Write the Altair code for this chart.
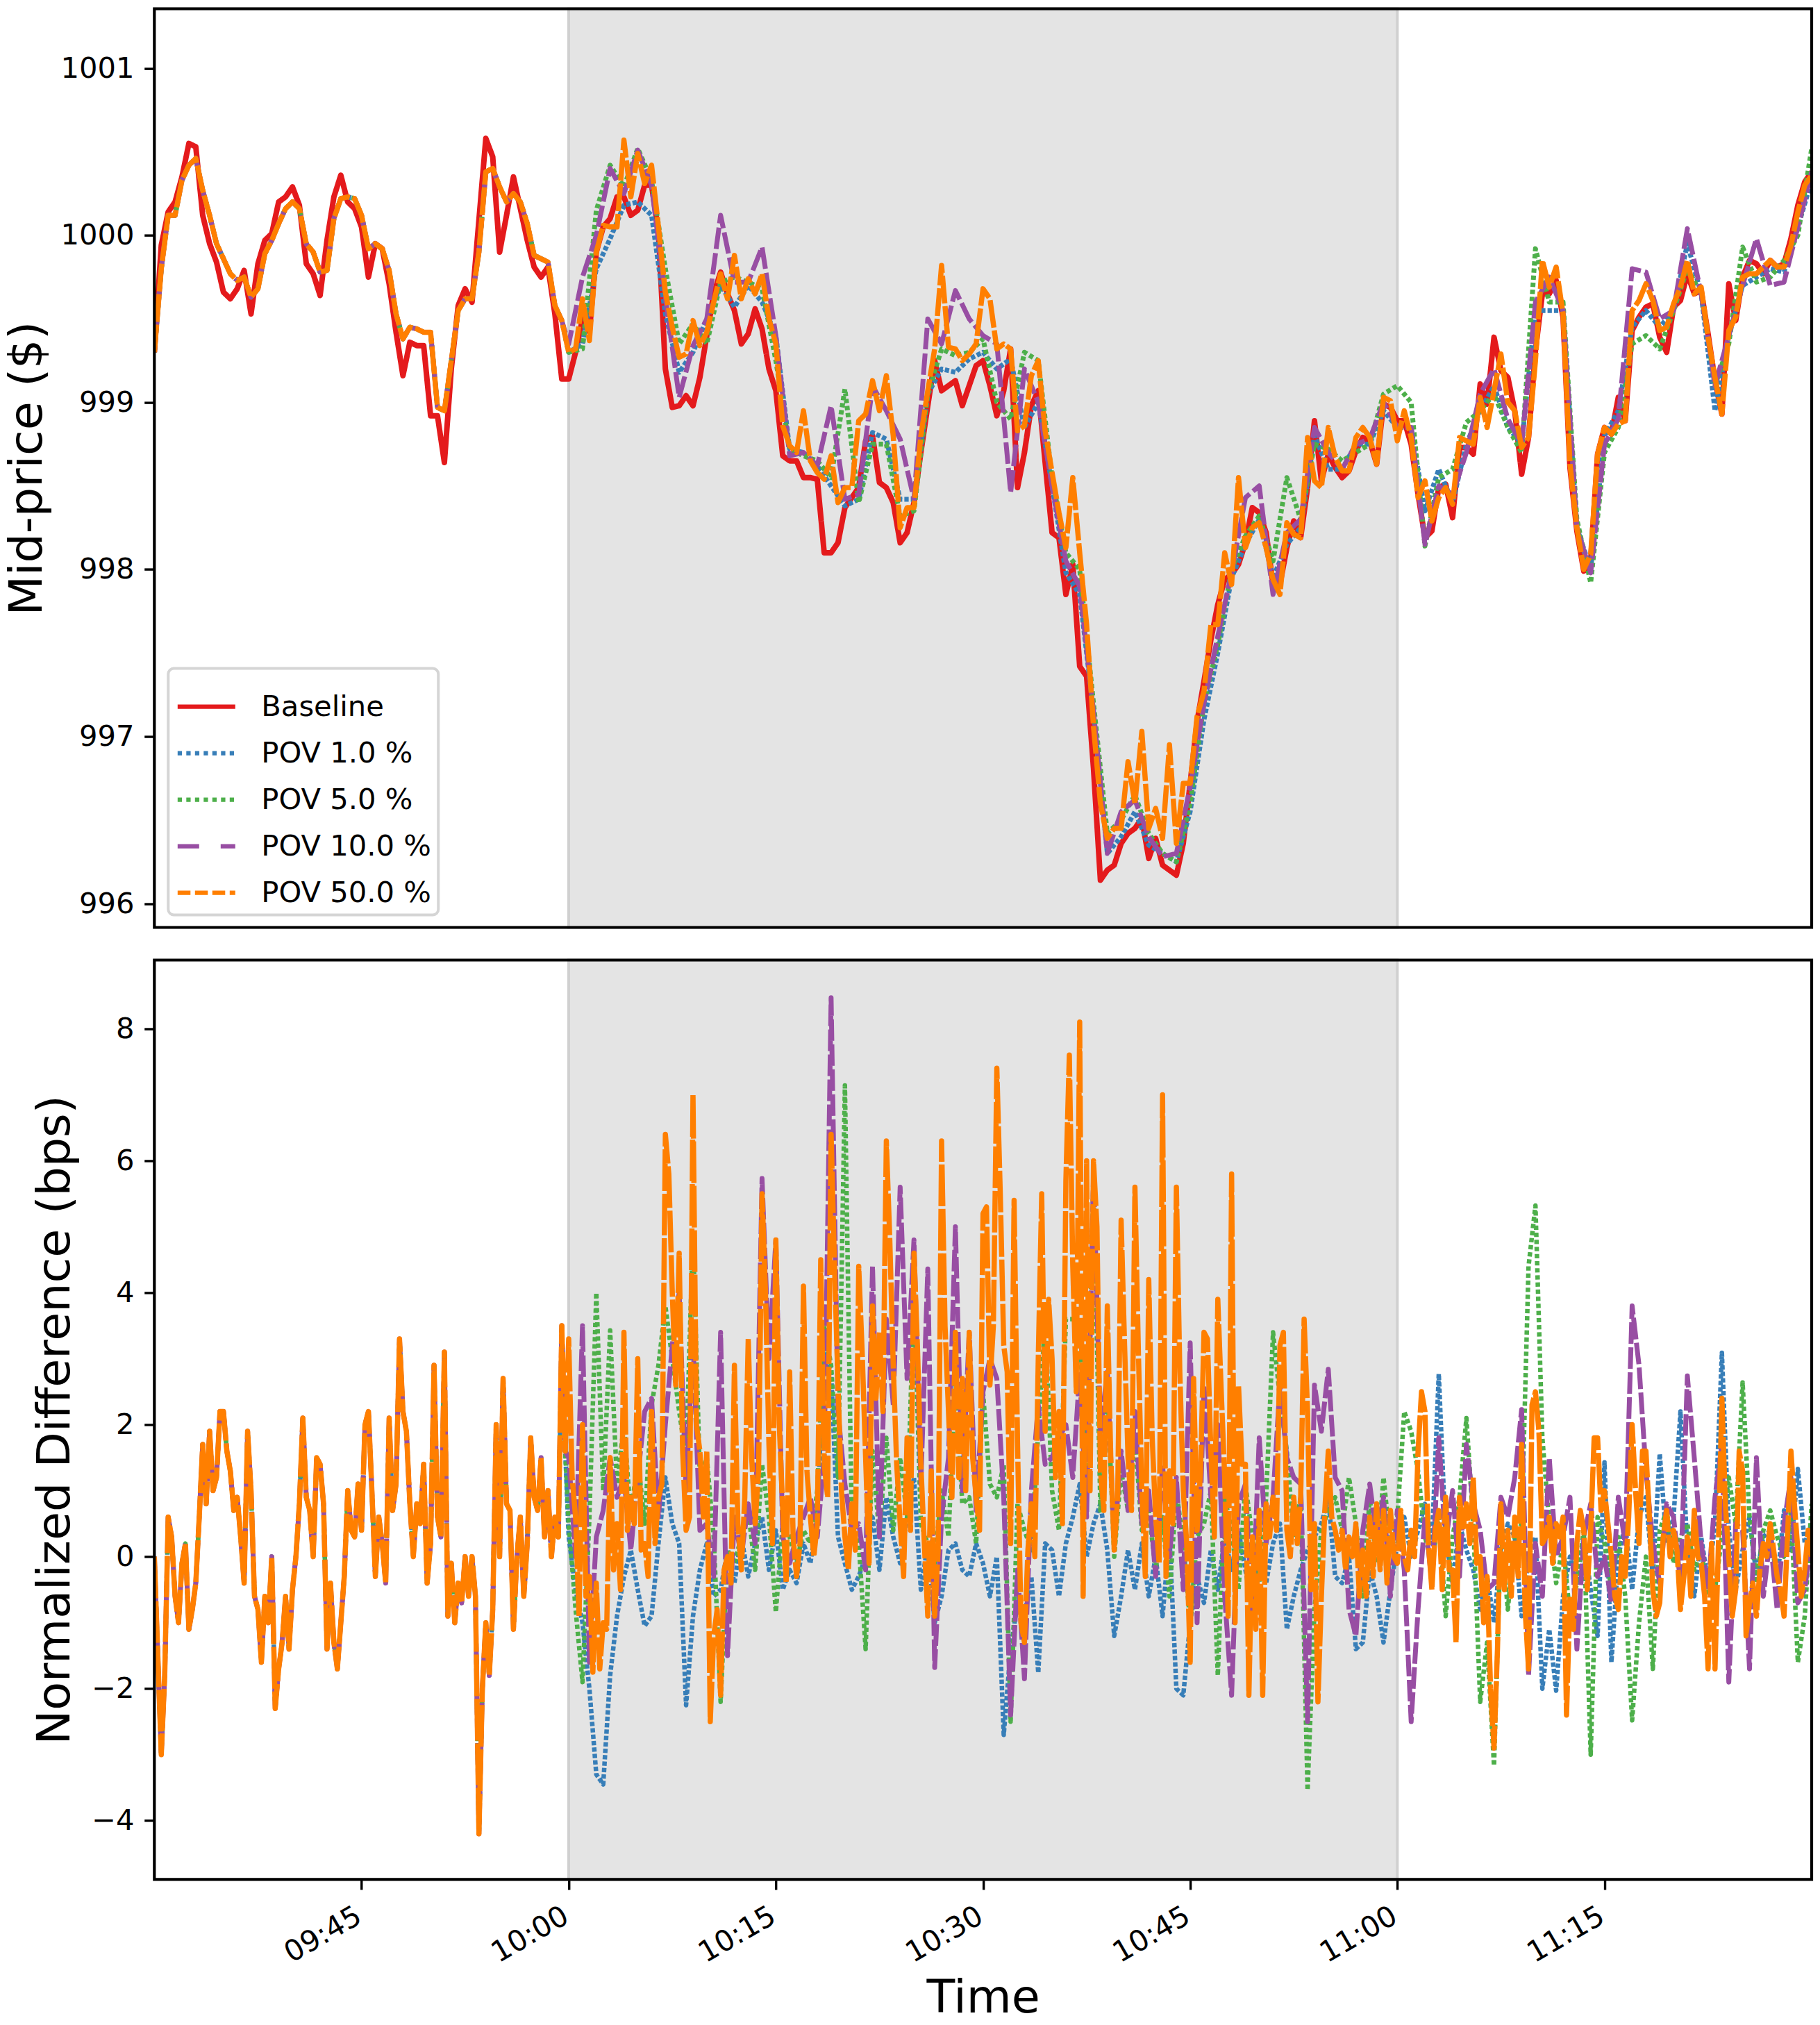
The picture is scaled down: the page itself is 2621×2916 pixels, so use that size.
import altair as alt
import pandas as pd

SERIES = ["Baseline", "POV 1.0 %", "POV 5.0 %", "POV 10.0 %", "POV 50.0 %"]
COLORS = ["#e41a1c", "#377eb8", "#4daf4a", "#984ea3", "#ff7f00"]
LEGEND_DASHES = [[1, 0], [6.25, 6.25], [6.25, 6.25], [31, 31], [18.5, 6.5]]
# Dense ticks overlap in the source, so the drawn lines read heavier than their legend keys
TOP_WIDTHS = [8, 7, 7, 7, 7.5]
TOP_DASHES = [[1, 0], [6.25, 3], [6.25, 4], [31, 6], [40, 4]]
BOTTOM_WIDTHS = [6, 6.5, 6.5, 7, 7.5]
BOTTOM_DASHES = [[1, 0], [6.25, 3], [6.25, 4], [31, 5], [60, 4]]

# ---- Mid-price panel, every 30 s before 10:00, shared by all POV runs ----
mid_pre = [999.3, 999.8, 1000.12, 1000.12, 1000.33, 1000.42, 1000.46, 1000.27, 1000.12, 999.95,
           999.86, 999.77, 999.73, 999.75, 999.63, 999.68, 999.89, 999.97, 1000.07, 1000.16,
           1000.2, 1000.16, 999.95, 999.9, 999.78, 999.79, 1000.1, 1000.22, 1000.23, 1000.22,
           1000.12, 999.92, 999.95, 999.92, 999.79, 999.53, 999.38, 999.45, 999.44, 999.42,
           999.42, 998.97, 998.95, 999.25, 999.55, 999.62, 999.62, 999.9, 1000.38, 1000.4,
           1000.29, 1000.2, 1000.25, 1000.2, 1000.07, 999.88, 999.86, 999.84, 999.58, 999.49]
base_pre = [999.3, 999.94, 1000.14, 1000.2, 1000.35, 1000.55, 1000.53, 1000.12, 999.95, 999.84,
            999.66, 999.62, 999.68, 999.79, 999.53, 999.83, 999.97, 1000.01, 1000.2, 1000.23,
            1000.29, 1000.18, 999.83, 999.77, 999.64, 999.97, 1000.23, 1000.36, 1000.2, 1000.16,
            1000.05, 999.75, 999.95, 999.92, 999.71, 999.42, 999.16, 999.36, 999.34, 999.34,
            998.92, 998.92, 998.64, 999.2, 999.58, 999.68, 999.6, 1000.09, 1000.58, 1000.47,
            999.9, 1000.12, 1000.35, 1000.16, 999.97, 999.81, 999.75, 999.81, 999.53, 999.14]
# 10:00 onward, every 30 s
base_post = [999.14, 999.3, 999.5, 999.42, 999.9, 1000.05, 1000.1, 1000.23, 1000.23, 1000.12,
             1000.15, 1000.3, 1000.3, 1000.02, 999.2, 998.97, 998.98, 999.04, 998.98, 999.15,
             999.4, 999.65, 999.78, 999.65, 999.55, 999.35,
             999.41, 999.56, 999.44, 999.2, 999.07, 998.68, 998.65, 998.65, 998.55, 998.55,
             998.54, 998.1, 998.1, 998.16, 998.37, 998.43, 998.49, 998.77, 998.8, 998.52,
             998.49, 998.4, 998.16, 998.22, 998.4, 998.7, 998.98, 999.25, 999.07, 999.1,
             999.13, 998.98, 999.1, 999.22, 999.25, 999.1, 998.92, 999.07, 999.32, 998.49,
             998.7, 998.98, 999.07, 998.64, 998.22, 998.19, 997.85, 998.03, 997.42, 997.36,
             996.81, 996.14, 996.2, 996.23, 996.36, 996.42, 996.45, 996.51, 996.27, 996.39,
             996.23, 996.2, 996.17, 996.36, 996.72, 997.09, 997.33, 997.58, 997.79, 997.94,
             997.97, 998.03, 998.16, 998.37, 998.34, 998.22, 997.91, 997.91, 998.13,
             998.29, 998.19, 998.49, 998.89, 998.53, 998.69, 998.61, 998.55, 998.59, 998.71,
             998.79, 998.77, 998.63, 998.99, 998.97, 998.89, 998.89, 998.75, 998.45, 998.19,
             998.23, 998.49, 998.51, 998.31, 998.73, 998.73, 998.69, 999.11, 998.99, 999.39,
             999.19, 999.15, 998.95, 998.57, 998.79, 999.31, 999.65, 999.65, 999.73, 999.51,
             998.61, 998.23, 997.99, 998.05, 998.69, 998.85, 998.81, 999.03, 998.89, 999.43,
             999.51, 999.57, 999.59, 999.39, 999.3, 999.57, 999.61, 999.77, 999.65, 999.67,
             999.41, 999.13, 998.93, 999.71, 999.49, 999.75, 999.85, 999.83, 999.77, 999.85,
             999.81, 999.83, 999.98, 1000.18, 1000.32, 1000.38]
mid50_post = [999.3, 999.32, 999.62, 999.37, 999.9, 1000.06, 1000.05, 1000.05, 1000.57, 1000.23,
              1000.49, 1000.31, 1000.42, 1000.05, 999.66, 999.45, 999.27, 999.29, 999.49, 999.34,
              999.42, 999.6, 999.77, 999.62, 999.88, 999.62,
              999.74, 999.65, 999.77, 999.5, 999.35, 998.86, 998.74, 998.7, 998.95, 998.65,
              998.58, 998.54, 998.68, 998.4, 998.49, 998.49, 998.89, 998.93, 999.13, 998.95,
              999.16, 998.8, 998.25, 998.37, 998.37, 998.8, 999.07, 999.32, 999.82, 999.33,
              999.32, 999.25, 999.29, 999.35, 999.68, 999.62, 999.32, 999.35, 999.32, 998.83,
              998.86, 999.16, 999.25, 998.83, 998.58, 998.34, 998.13, 998.55, 998.1, 997.67,
              997.06, 996.6, 996.39, 996.45, 996.45, 996.85, 996.6, 997.03, 996.45, 996.57,
              996.39, 996.95, 996.36, 996.72, 996.72, 997.12, 997.27, 997.67, 997.67, 998.1,
              997.91, 998.55, 998.13, 998.25, 998.28, 998.13, 997.94, 997.85, 998.28,
              998.21, 998.19, 998.79, 998.53, 998.49, 998.85, 998.67, 998.59, 998.59, 998.79,
              998.85, 998.79, 998.63, 999.03, 999.01, 998.77, 998.95, 998.79, 998.43, 998.53,
              998.29, 998.43, 998.49, 998.39, 998.79, 998.77, 998.75, 999.03, 998.85, 999.07,
              999.29, 999.0, 998.95, 998.73, 998.79, 999.25, 999.85, 999.69, 999.81, 999.53,
              998.63, 998.25, 998.0, 998.09, 998.69, 998.85, 998.81, 998.87, 998.89, 999.55,
              999.61, 999.71, 999.61, 999.43, 999.45, 999.59, 999.69, 999.85, 999.65, 999.69,
              999.39, 999.15, 998.93, 999.43, 999.51, 999.75, 999.77, 999.77, 999.81, 999.85,
              999.81, 999.81, 999.94, 1000.14, 1000.3, 1000.36]
# 10:00 onward, every minute
mid1_post = [999.3, 999.35, 999.8, 999.98, 1000.18, 1000.2, 1000.12, 999.53, 999.18, 999.3,
             999.5, 999.7, 999.57, 999.7, 999.6, 999.4, 998.72, 998.7, 998.62, 998.5,
             998.38, 998.42, 998.82, 998.78, 998.42, 998.42, 999.05, 999.2, 999.18, 999.26,
             999.3, 999.2, 999.26, 998.85, 999.0, 998.5, 997.98, 997.85, 997.15, 996.3,
             996.4, 996.55, 996.35, 996.3, 996.25, 996.55, 997.1, 997.5, 997.95, 998.15,
             998.3, 997.95, 998.15, 998.25, 998.8, 998.6, 998.6, 998.75, 998.75, 998.95,
             998.85, 998.85, 998.35, 998.6, 998.4, 998.75, 998.95, 999.1, 998.85, 998.75,
             999.55, 999.55, 999.55, 998.25, 998.0, 998.8, 998.95, 999.45, 999.55, 999.45,
             999.55, 999.95, 999.65, 998.95, 999.4, 999.7, 999.75, 999.8, 999.78, 1000.05, 1000.33]
mid5_post = [999.3, 999.32, 1000.15, 1000.42, 1000.29, 1000.52, 1000.33, 999.8, 999.35, 999.47,
             999.35, 999.72, 999.75, 999.72, 999.68, 999.25, 998.72, 998.68, 998.65, 998.55,
             999.08, 998.4, 998.75, 998.75, 998.32, 998.35, 999.05, 999.32, 999.28, 999.3,
             999.38, 999.0, 998.9, 999.3, 999.25, 998.55, 998.1, 998.0, 997.2, 996.42,
             996.5, 996.65, 996.42, 996.3, 996.25, 996.6, 997.2, 997.55, 998.0, 998.2,
             998.32, 998.05, 998.55, 998.3, 998.75, 998.72, 998.65, 998.7, 998.75, 999.05,
             999.1, 999.0, 998.14, 998.55, 998.6, 998.88, 998.95, 999.05, 998.85, 998.7,
             999.92, 999.6, 999.6, 998.3, 997.92, 998.7, 998.85, 999.35, 999.4, 999.32,
             999.55, 999.8, 999.65, 999.1, 999.35, 999.93, 999.72, 999.75, 999.85, 1000.0, 1000.52]
mid10_post = [999.35, 999.75, 1000.0, 1000.4, 1000.25, 1000.51, 1000.3, 999.63, 999.03, 999.34,
              999.5, 1000.12, 999.72, 999.72, 999.93, 999.4, 998.68, 998.7, 998.62, 998.98,
              998.42, 998.45, 999.1, 998.95, 998.78, 998.42, 999.5, 999.35, 999.67, 999.5,
              999.4, 999.35, 998.46, 999.2, 999.0, 998.5, 998.05, 997.9, 997.15, 996.3,
              996.55, 996.62, 996.4, 996.28, 996.3, 996.7, 997.2, 997.6, 997.98, 998.43,
              998.5, 997.85, 998.22, 998.3, 998.85, 998.7, 998.6, 998.75, 998.78, 999.0,
              998.85, 998.85, 998.15, 998.5, 998.45, 998.7, 999.05, 999.2, 998.9, 998.75,
              999.6, 999.75, 999.55, 998.25, 997.98, 998.75, 998.9, 999.8, 999.78, 999.5,
              999.55, 1000.04, 999.65, 999.1, 999.4, 999.7, 999.98, 999.7, 999.72, 1000.05, 1000.38]

# ---- Normalized difference panel ----
# before 10:00, every 15 s, shared by all POV runs
diff_pre = [0.0, -1.5, -3.0, -1.8, 0.6, 0.3, -0.6, -1.0, -0.1, 0.2,
            -1.1, -0.8, -0.4, 0.6, 1.7, 0.8, 1.9, 1.0, 1.2, 2.2,
            2.2, 1.6, 1.3, 0.7, 0.9, 0.3, -0.4, 1.9, 1.0, -0.6,
            -0.8, -1.6, -0.6, -1.0, 0.0, -2.3, -1.7, -1.3, -0.6, -1.4,
            -0.5, 0.0, 0.8, 2.1, 0.9, 0.7, 0.0, 1.5, 1.4, 0.8,
            -1.4, -0.4, -1.3, -1.7, -1.0, -0.3, 1.0, 0.4, 0.3, 1.1,
            0.4, 2.0, 2.2, 1.0, -0.3, 0.6, 0.2, -0.4, 2.1, 0.7,
            1.1, 3.3, 2.2, 1.9, 0.8, 0.0, 0.8, 0.5, 1.4, -0.4,
            0.2, 2.9, 0.6, 0.3, 3.1, -0.9, -0.1, -1.0, -0.4, -0.7,
            0.0, -0.6, 0.0, -0.6, -4.2, -2.0, -1.0, -1.8, -0.8, 2.0,
            0.0, 2.7, 0.8, 0.7, -1.1, 0.0, 0.6, -0.6, 0.2, 1.8,
            0.9, 0.7, 1.5, 0.3, 1.0, 0.0, 0.6, 0.3, 3.5, 1.6]
# 10:00 onward, every 15 s
diff50_post = [3.3, 1.2, 0.6, -0.9, 2.0, -0.6, -0.3, -1.75, -0.4, -1.7, -1.0, -1.1, 1.5, -0.2, 0.5, -0.5,
               3.4, 0.4, 0.9, 0.5, 3.0, 0.1, 0.2, -0.3, 2.2, 0.2, 0.9, 1.1, 6.4, 5.8, 4.0, 2.6,
               4.6, 1.6, 0.4, 0.6, 7.0, 2.0, 1.6, 0.6, 1.6, -2.5, -1.2, -0.8, -2.1, -0.2, 0.0, -0.4,
               2.9, 0.5, -0.2, 0.9, 3.3, 1.5, 0.5, 1.3, 5.5, 4.0, 1.7, 0.2, 4.8, 2.0, 0.7, -0.4,
               2.8, 0.3, -0.3, 0.2, 4.1, 1.3, 0.6, 0.0, 0.5, 4.5, 1.4, 0.9, 6.4, 4.4, 2.6, 1.0,
               0.3, -0.2, 0.8, 0.1, 4.4, 3.1, 1.5, -0.1, 3.8, 2.4, 3.4, 2.2, 6.3, 4.8, 2.9, 1.4,
               0.5, -0.3, 1.8, 0.4, 4.6, 3.2, 1.4, 0.2, -0.9, 1.3, -0.9, 0.1, 6.3, 3.5, 2.2, 0.9,
               3.4, 1.2, 2.7, 1.0, 3.4, 1.5, 0.9, 0.4, 5.2, 5.3, 2.6, 3.5, 7.4, 5.5, 3.2, 2.8,
               0.2, 5.4, 1.7, -1.0, -1.3, 0.1, 0.8, 0.0, 3.0, 5.5, 1.9, 3.9, 3.0, 1.2, 2.2, 0.5,
               5.7, 7.6, 4.4, 2.5, 8.1, -0.6, 6.0, 1.0, 6.0, 5.0, 1.3, 0.7, 3.8, 1.5, 0.1, 0.9,
               5.1, 3.2, 1.5, 0.7, 5.6, 3.1, 1.0, -0.3, 4.2, 1.8, 0.6, -0.1, 7.0, -0.3, 1.3, 0.5,
               5.6, 2.8, 1.0, 0.2, -1.6, 2.7, 0.4, 1.3, 3.4, 3.3, 1.6, 0.3, 3.9, 2.5, 1.2, -0.9,
               5.8, -1.0, 2.6, 1.4, 1.4, -2.1, 0.3, -1.1, 0.7, -2.1, 0.8, 0.3, 0.9, 0.4, 3.2, 3.4,
               0.4, 0.0, 0.9, 0.2, 0.9, 3.6, 2.2, -0.5, 0.5, -2.2, -0.6, 0.7, 1.6, 0.6, 0.4, 0.1,
               0.4, -0.2, 0.3, 0.0, 0.5, -0.6, 0.1, -0.6, 0.6, -0.3, 0.8, -0.2, 0.7, -0.4, 0.7, 0.0,
               -0.1, 0.7, 0.0, -0.2, 0.4, 0.0, 1.6, 2.5, 2.2, 0.2, -0.5, 0.4, 0.7, -0.5, 0.9, -0.2,
               -0.2, -1.3, 0.9, 0.4, 0.8, 0.2, 1.2, -0.1, 0.0, -1.0, -0.3, -2.0, -2.9, -1.4, 0.8, -0.5,
               0.4, -0.6, 0.6, -0.3, 1.7, -0.8, -1.7, 2.3, 2.5, 1.9, 0.2, 0.3, 0.6, -0.1, 0.5, 0.3,
               0.6, -2.4, -0.6, -1.1, 0.2, 0.7, 0.4, -0.5, 0.4, 1.8, 1.8, 0.7, 1.0, 0.5, 0.0, -0.6,
               -0.8, 0.0, -0.3, 0.6, 2.0, 1.0, 0.2, 1.6, 1.6, 0.6, -0.5, -0.9, -0.7, 0.3, 0.7, 0.0,
               0.4, 0.1, -0.8, -0.3, 0.3, -0.6, 0.7, 0.0, -0.1, -0.6, -1.7, 0.2, -1.7, 0.2, 2.4, 0.8,
               0.0, -0.9, -0.5, 1.6, 1.3, -1.2, -0.7, -0.4, -0.9, -0.2, 0.2, 0.0, 0.5, 0.1, -0.3, -0.5,
               -0.9, 0.3, 1.6, 0.8, 0.1, -0.6, -0.2, 0.4, 0.0]
# 10:00 onward, every 30 s
diff1_post = [0.3, -0.5, -1.0, -2.0, -3.3, -3.45, -1.8, -0.9, -0.3, 0.1, -0.5, -1.05, -0.9, 0.2, 1.2, 0.5, 0.2, -2.25, -0.9, -0.2,
              0.2, -0.6, -0.5, 0.1, -0.4, 0.3, -0.3, 0.2, 0.6, -0.2, 0.4, -0.5, -0.2, -0.4, 0.2, -0.1, 0.6, 3.2, 2.8, 0.3,
              -0.1, -0.5, -0.3, 0.0, 0.6, -0.2, 0.9, 0.3, -0.1, 0.6, 1.2, -0.5, 0.2, -1.0, -0.6, 0.1, 0.2, -0.2, -0.3, 0.2,
              -0.1, -0.6, 0.0, -2.7, -1.4, -0.7, -0.9, -0.3, -1.76, 0.2, 0.1, -0.6, 0.2, 0.6, 1.1, 0.0, 0.5, 0.8, 0.1, -1.2,
              -0.6, 0.1, -0.5, 0.2, -0.6, 0.0, -0.9, 0.3, -2.0, -2.1, -1.0, -0.3, -0.7, 0.1, -0.5, 0.3, -0.2, 0.4, -0.2, -0.8,
              0.1, -0.4, 0.2, 0.5, -1.1, -0.6, -0.2, 0.1, 0.3, 0.5, 0.9, -0.3, -0.4, 0.0, -1.4, -1.3, -0.2, -0.6, -1.3, -0.5,
              0.2, 0.6, 0.0, 0.4, 0.8, 0.2, 2.77, 0.3, -0.4, 0.5, 0.1, -0.2, -0.8, -0.3, -1.0, 0.1, 0.5, 0.3, -0.9, 0.0,
              0.3, -2.0, -1.1, -2.03, -0.6, 0.0, -0.4, 0.3, -0.5, -1.2, 1.43, -1.6, 0.0, 0.5, -0.5, 0.6, 0.9, -0.3, 1.56, 0.2,
              0.6, 2.2, 0.1, -0.6, 0.3, -0.4, 0.5, 3.09, 0.4, -0.5, 0.1, 0.6, -0.3, 0.3, 0.4, -0.4, 0.7, 0.1, 1.33, 0.2, 0.5]
diff5_post = [0.5, -0.8, -1.9, 0.6, 4.0, 1.0, 3.43, 1.1, 2.0, 0.6, 1.5, 0.5, 2.3, 2.9, 3.8, 3.0, 2.2, 1.5, 4.9, 1.2,
              1.5, 0.3, -2.2, 0.1, -0.1, 0.3, 0.7, -0.2, 1.4, 0.6, -0.84, 0.5, 0.3, -0.1, 0.4, 0.2, 1.0, 3.5, 2.9, 1.2,
              7.14, 0.5, 0.2, -1.4, 1.6, 0.3, 1.8, 0.4, 1.5, 0.6, 4.0, 0.5, 0.2, -0.1, 1.0, 0.3, 2.7, 0.8, 0.9, 0.2,
              2.5, 1.1, 0.9, 1.4, -2.5, 0.8, 0.4, 0.1, 1.9, 3.6, 1.0, 0.4, 3.6, 3.6, 3.3, 1.0, 5.8, 0.7, 2.6, 0.0,
              1.3, 0.7, 1.8, 0.4, 0.7, -0.2, 0.6, -0.6, 1.0, 0.2, -1.0, 0.3, 0.5, 1.0, -1.8, 0.9, 0.4, -0.5, 1.1, 0.3,
              -0.4, 0.9, 3.4, 2.4, 1.6, 0.3, 0.9, -3.54, -0.8, 0.4, 0.7, 0.9, 0.4, 1.2, 0.5, -0.6, 0.9, -0.1, 1.2, 0.2,
              0.6, 2.2, 1.9, 1.3, 0.3, -0.1, 0.6, -0.9, 0.3, 0.9, 2.1, 0.5, -2.2, -1.3, -3.17, 0.4, -0.8, 0.3, 0.5, 4.4,
              5.32, 1.8, 0.5, -0.4, 0.2, -0.9, -0.4, 0.4, -3.0, 0.6, 0.2, -0.5, 0.3, -0.6, -2.48, -1.0, 0.0, -1.7, 0.4, 0.7,
              -0.1, 0.3, 0.5, -0.2, 0.1, -0.6, -0.5, 0.3, 1.2, 0.5, 2.64, 0.6, -0.4, 0.4, 0.7, 0.3, 0.0, 0.7, -1.6, -0.9, 0.8]
diff10_post = [1.5, 0.0, 3.5, -1.6, 0.3, 0.7, 1.5, 0.9, 1.2, 0.1, 1.2, 2.2, 2.4, 0.6, 2.0, 3.2, 4.0, 1.0, 3.3, 0.4,
               0.5, -0.3, 3.4, -1.5, 0.6, 0.0, 0.8, 0.2, 5.73, 3.0, 4.8, 0.3, -0.1, 0.3, 0.6, 0.9, 0.3, 1.5, 8.47, 2.2,
               1.1, 0.4, 0.5, -0.2, 4.4, 0.3, 3.6, 2.3, 5.6, 2.7, 4.8, 1.1, 4.36, -1.68, 0.6, 1.5, 5.0, 1.0, 3.4, 0.7,
               2.5, 3.0, 2.7, 0.9, -2.4, -0.2, -1.85, 1.0, 2.3, 1.4, 1.5, 1.8, 2.0, 1.2, 2.8, 0.6, 5.8, 1.9, 2.8, 0.2,
               1.6, 0.7, 2.2, 0.5, 1.0, -0.3, 1.4, 0.0, 1.2, -0.5, 3.24, -1.0, 2.6, 0.9, 2.0, -0.6, -2.1, 0.8, 1.1, -0.9,
               1.8, 0.2, 0.9, 2.6, 1.5, 1.2, 1.1, -2.5, 2.6, 1.9, 2.84, 1.2, 1.0, -0.8, -1.2, 0.4, 1.1, 0.3, 0.9, -0.6,
               0.7, -0.2, -2.5, -0.8, 0.6, -0.4, 1.8, 0.2, 1.0, -0.3, 1.7, 0.8, 0.4, -0.5, -0.4, 0.9, 0.6, 1.2, 2.23, -1.8,
               0.2, -0.6, 1.5, 0.0, 0.3, 0.9, -1.4, 0.3, 0.8, -0.3, 0.0, -0.7, 0.9, 0.2, 3.8, 2.9, 1.3, 0.2, -0.4, 0.8,
               0.6, -0.4, 2.74, 1.5, 0.2, -0.5, 0.9, 1.7, -1.9, 0.5, 0.4, -1.7, 1.5, -0.6, 0.3, -0.8, 0.5, 1.2, -0.7, -0.5, 0.3]

# minutes after 09:30
BAND = [30, 90]
DOMAIN = [0, 120]
TIME_TICKS = [15, 30, 45, 60, 75, 90, 105]
MID_TICKS = [996, 997, 998, 999, 1000, 1001]
DIFF_TICKS = [-4, -2, 0, 2, 4, 6, 8]
FONT = "DejaVu Sans"


def frame(parts):
    rows = []
    for name, start, step, values in parts:
        for i, v in enumerate(values):
            rows.append({"t": start + i * step, "v": v, "s": name})
    return pd.DataFrame(rows)


mid_df = frame([
    (SERIES[0], 0, .5, base_pre), (SERIES[0], 30, .5, base_post),
    (SERIES[1], 0, .5, mid_pre), (SERIES[1], 30, 1, mid1_post),
    (SERIES[2], 0, .5, mid_pre), (SERIES[2], 30, 1, mid5_post),
    (SERIES[3], 0, .5, mid_pre), (SERIES[3], 30, 1, mid10_post),
    (SERIES[4], 0, .5, mid_pre), (SERIES[4], 30, .5, mid50_post),
])
diff_df = frame([
    (SERIES[1], 0, .25, diff_pre), (SERIES[1], 30, .5, diff1_post),
    (SERIES[2], 0, .25, diff_pre), (SERIES[2], 30, .5, diff5_post),
    (SERIES[3], 0, .25, diff_pre), (SERIES[3], 30, .5, diff10_post),
    (SERIES[4], 0, .25, diff_pre), (SERIES[4], 30, .25, diff50_post),
])
band_df = pd.DataFrame({"a": [BAND[0]], "b": [BAND[1]]})
box_df = pd.DataFrame({"a": [DOMAIN[0]], "b": [DOMAIN[1]]})
# one lone point per series: draws no line, only gives the legend its keys
key_df = pd.DataFrame({"t": [60] * 5, "v": [999] * 5, "s": SERIES})
xscale = alt.Scale(domain=DOMAIN, nice=False, zero=False)
W, H = 2387, 1323


def yaxis(title, ticks, pad):
    return alt.Axis(title=title, values=ticks, format="d", grid=False, domain=False,
                    tickSize=14.6, tickWidth=3.4, tickColor="black",
                    labelPadding=14.6, labelFontSize=41.67, labelColor="black", labelFont=FONT,
                    titleFontSize=66.67, titleFont=FONT, titleFontWeight="normal",
                    titleColor="black", titlePadding=pad)


xbottom = alt.Axis(title="Time", values=TIME_TICKS, grid=False, domain=False,
                   labelExpr="timeFormat(datetime(2020,0,1,9,30+datum.value),'%H:%M')",
                   tickSize=14.6, tickWidth=3.4, tickColor="black", labelPadding=17,
                   labelOffset=-14,
                   labelFontSize=41.67, labelColor="black", labelFont=FONT, labelAngle=330,
                   labelAlign="right", labelBaseline="top", labelOverlap=False,
                   titleFontSize=66.67, titleFont=FONT, titleFontWeight="normal",
                   titleColor="black", titlePadding=10)


def panel(df, ydomain, yax, xax, legend, hgt, widths, dashes):
    yscale = alt.Scale(domain=ydomain, nice=False, zero=False)
    band = alt.Chart(band_df).mark_rect(fill="#e4e4e4", stroke="#d0d0d0", strokeWidth=4).encode(
        x=alt.X("a:Q", scale=xscale, axis=xax), x2="b:Q", y=alt.value(0), y2=alt.value(hgt))
    layers = [band]
    for i, name in enumerate(SERIES):
        part = df[df["s"] == name]
        if part.empty:
            continue
        layers.append(
            alt.Chart(part).mark_line(color=COLORS[i], strokeWidth=widths[i], strokeDash=dashes[i],
                                      strokeJoin="round", clip=True).encode(
                x=alt.X("t:Q", scale=xscale, axis=xax),
                y=alt.Y("v:Q", scale=yscale, axis=yax)))
    if legend is not None:
        layers.append(
            alt.Chart(key_df).mark_line(strokeWidth=6.25).encode(
                x=alt.X("t:Q", scale=xscale, axis=xax),
                y=alt.Y("v:Q", scale=yscale, axis=yax),
                color=alt.Color("s:N", scale=alt.Scale(domain=SERIES, range=COLORS), legend=legend),
                strokeDash=alt.StrokeDash("s:N", scale=alt.Scale(domain=SERIES, range=LEGEND_DASHES),
                                          legend=legend)))
    box = alt.Chart(box_df).mark_rect(fillOpacity=0, stroke="black", strokeWidth=4.2).encode(
        x=alt.X("a:Q", scale=xscale, axis=xax), x2="b:Q", y=alt.value(0), y2=alt.value(hgt))
    layers.append(box)
    return alt.layer(*layers).properties(width=W, height=hgt)


legend = alt.Legend(orient="none", legendX=20, legendY=950, title=None, symbolType="stroke",
                    symbolSize=6889, symbolStrokeWidth=6.25, labelFontSize=41.67, labelFont=FONT,
                    labelColor="black", labelOffset=34, labelLimit=500, rowPadding=-31.5, padding=10,
                    fillColor="white", strokeColor="#d5d5d5", cornerRadius=8)

top = panel(mid_df, [995.857, 1001.356], yaxis("Mid-price ($)", MID_TICKS, 14), None, legend, H,
            TOP_WIDTHS, TOP_DASHES)
bottom = panel(diff_df, [-4.89, 9.04], yaxis("Normalized Difference (bps)", DIFF_TICKS, 18), xbottom, None, H + 1,
               BOTTOM_WIDTHS, BOTTOM_DASHES)

chart = alt.vconcat(top, bottom, spacing=41).properties(
    padding={"left": -2.67, "top": 1.5, "right": 1, "bottom": 4}
).configure_view(strokeWidth=0).configure_legend(strokeWidth=4)

chart.save("out.html", embed_options={"renderer": "svg", "actions": False})
